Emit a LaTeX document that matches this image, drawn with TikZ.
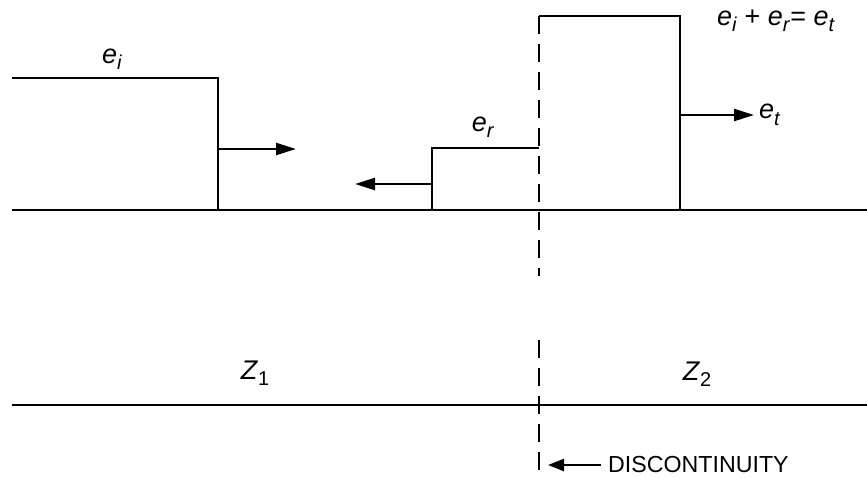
\documentclass[tikz,border=0pt]{standalone}
\usepackage{fontspec}
\setmainfont{Liberation Sans}
\usetikzlibrary{arrows.meta}
\newcommand{\vsub}[2]{\textit{#1}\raisebox{-0.45ex}{\fontsize{10}{12}\selectfont\textit{#2}}}

\begin{document}
\begin{tikzpicture}[x=0.5pt, y=-0.5pt, line width=1.2pt, font=\fontsize{11.6}{14}\selectfont,
    wave/.style={-{Triangle[length=10pt,width=6pt]}},
    boundary/.style={dash pattern=on 9pt off 5pt},
    lbl/.style={font=\fontsize{13.5}{16}\selectfont}]
    \useasboundingbox (0,0) rectangle (867,477);

    % Lines
    \coordinate (a1) at (12,210); \coordinate (a2) at (867,210);
    \coordinate (b1) at (12,405); \coordinate (b2) at (867,405);
    \draw (a1) -- (a2);
    \draw (b1) -- (b2);

    % Incident pulse
    \coordinate (i1) at (12,78); \coordinate (i2) at (218,78); \coordinate (i3) at (218,210);
    \draw (i1) -- (i2) -- (i3);
    \coordinate (ia) at (218,149); \coordinate (ib) at (296,149);
    \draw[wave] (ia) -- (ib);
    \node[lbl] (ei) at (112,59) {\vsub{e}{i}};

    % Reflected pulse
    \coordinate (r1) at (432,210); \coordinate (r2) at (432,148); \coordinate (r3) at (539,148);
    \draw (r1) -- (r2) -- (r3);
    \coordinate (ra) at (432,184); \coordinate (rb) at (355,184);
    \draw[wave] (ra) -- (rb);
    \node[lbl] (er) at (483,127) {\vsub{e}{r}};

    % Transmitted pulse
    \coordinate (t1) at (539,16); \coordinate (t2) at (680,16); \coordinate (t3) at (680,210);
    \draw (t1) -- (t2) -- (t3);
    \coordinate (ta) at (680,115); \coordinate (tb) at (754,115);
    \draw[wave] (ta) -- (tb);
    \node[lbl, right, inner sep=2pt] (et) at (tb) {\vsub{e}{t}};
    \node[lbl] (sum) at (776,21) {\vsub{e}{i} + \vsub{e}{r}= \vsub{e}{t}};

    % Discontinuity
    \coordinate (d1) at (539,16); \coordinate (d2) at (539,276);
    \coordinate (d3) at (539,340); \coordinate (d4) at (539,472);
    \draw[boundary] (d1) -- (d2);
    \draw[boundary] (d3) -- (d4);
    \node[right, inner sep=0pt] (disc) at (607,465) {DISCONTINUITY};
    \coordinate (dm) at (548,465);
    \draw[-{Triangle[length=8pt,width=6pt]}] ([xshift=-3pt]disc.west) -- (dm);

    % Impedances
    \node[lbl] (z1) at (255,373) {\textit{Z}\raisebox{-0.45ex}{\fontsize{10}{12}\selectfont 1}};
    \node[lbl] (z2) at (697,374) {\textit{Z}\raisebox{-0.45ex}{\fontsize{10}{12}\selectfont 2}};
\end{tikzpicture}
\end{document}
